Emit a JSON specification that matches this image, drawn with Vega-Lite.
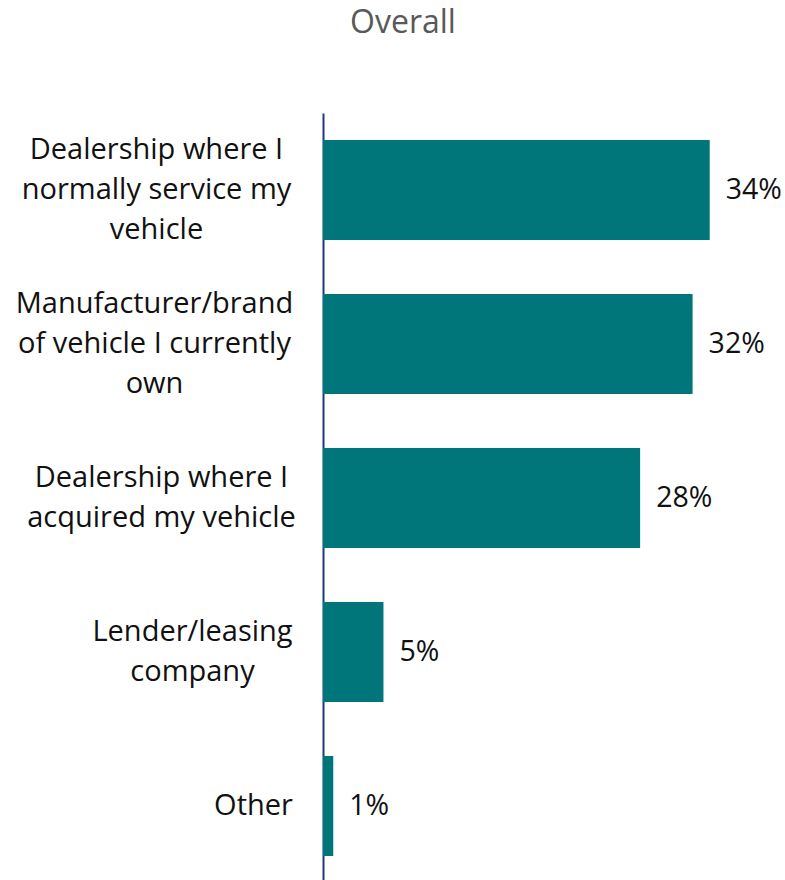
{
  "$schema": "https://vega.github.io/schema/vega-lite/v6.json",
  "autosize": {"type": "none"},
  "padding": {"left": 323, "top": 113, "right": 0, "bottom": 0},
  "width": 462,
  "height": 770,
  "background": "white",
  "title": {
    "text": "Overall",
    "font": "Open Sans",
    "fontSize": 32,
    "fontWeight": "normal",
    "color": "#595959",
    "anchor": "middle",
    "frame": "group",
    "dx": -151,
    "offset": 73
  },
  "data": {
    "values": [
      {"category": "Dealership where I normally service my vehicle", "value": 0.339},
      {"category": "Manufacturer/brand of vehicle I currently own", "value": 0.324},
      {"category": "Dealership where I acquired my vehicle", "value": 0.278},
      {"category": "Lender/leasing company", "value": 0.053},
      {"category": "Other", "value": 0.009}
    ]
  },
  "encoding": {
    "y": {
      "field": "category",
      "type": "nominal",
      "sort": null,
      "scale": {"paddingInner": 0.35, "paddingOuter": 0.175},
      "axis": {
        "title": null,
        "ticks": false,
        "labelAlign": "center",
        "labelFont": "Open Sans",
        "labelFontSize": 29,
        "labelColor": "#111111",
        "labelLineHeight": 40,
        "labelLimit": 0,
        "domainColor": "#1f3a7a",
        "domainWidth": 2,
        "grid": false,
        "labelExpr": "datum.value == 'Dealership where I normally service my vehicle' ? ['Dealership where I', 'normally service my', 'vehicle'] : datum.value == 'Manufacturer/brand of vehicle I currently own' ? ['Manufacturer/brand', 'of vehicle I currently', 'own'] : datum.value == 'Dealership where I acquired my vehicle' ? ['Dealership where I', 'acquired my vehicle'] : datum.value == 'Lender/leasing company' ? ['Lender/leasing', 'company'] : datum.value",
        "labelPadding": {"expr": "datum.value == 'Dealership where I normally service my vehicle' ? 167 : datum.value == 'Manufacturer/brand of vehicle I currently own' ? 169 : datum.value == 'Dealership where I acquired my vehicle' ? 162 : datum.value == 'Lender/leasing company' ? 131 : 70"},
        "labelOffset": {"expr": "datum.value == 'Dealership where I normally service my vehicle' || datum.value == 'Manufacturer/brand of vehicle I currently own' ? -40 : (datum.value == 'Dealership where I acquired my vehicle' || datum.value == 'Lender/leasing company') ? -20 : 0"}
      }
    },
    "x": {
      "field": "value",
      "type": "quantitative",
      "scale": {"domain": [0, 0.405], "nice": false},
      "axis": null
    }
  },
  "layer": [
    {"mark": {"type": "bar", "color": "#00757a"}},
    {
      "mark": {
        "type": "text",
        "align": "left",
        "baseline": "middle",
        "dx": 16,
        "font": "Open Sans",
        "fontSize": 28.5,
        "color": "#111111"
      },
      "encoding": {"text": {"field": "value", "type": "quantitative", "format": ".0%"}}
    }
  ],
  "config": {"view": {"stroke": null}}
}
